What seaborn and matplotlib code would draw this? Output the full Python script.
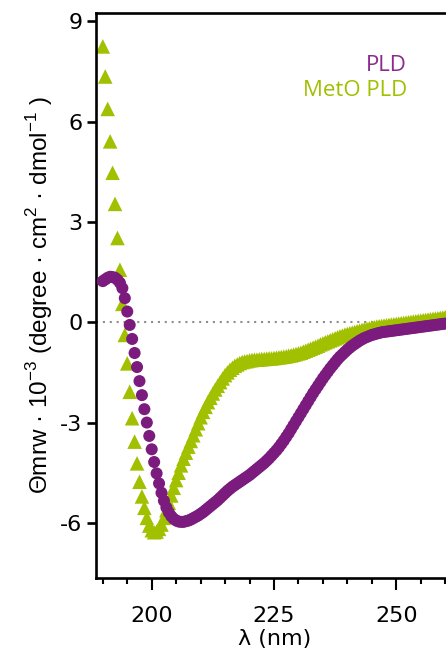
import matplotlib
matplotlib.use("Agg")
import matplotlib.pyplot as plt
import seaborn as sns
import pandas as pd
from matplotlib.ticker import FixedLocator

wavelength = [
    190, 190.5, 191, 191.5, 192, 192.5, 193, 193.5, 194, 194.5,
    195, 195.5, 196, 196.5, 197, 197.5, 198, 198.5, 199, 199.5,
    200, 200.5, 201, 201.5, 202, 202.5, 203, 203.5, 204, 204.5,
    205, 205.5, 206, 206.5, 207, 207.5, 208, 208.5, 209, 209.5,
    210, 210.5, 211, 211.5, 212, 212.5, 213, 213.5, 214, 214.5,
    215, 215.5, 216, 216.5, 217, 217.5, 218, 218.5, 219, 219.5,
    220, 220.5, 221, 221.5, 222, 222.5, 223, 223.5, 224, 224.5,
    225, 225.5, 226, 226.5, 227, 227.5, 228, 228.5, 229, 229.5,
    230, 230.5, 231, 231.5, 232, 232.5, 233, 233.5, 234, 234.5,
    235, 235.5, 236, 236.5, 237, 237.5, 238, 238.5, 239, 239.5,
    240, 240.5, 241, 241.5, 242, 242.5, 243, 243.5, 244, 244.5,
    245, 245.5, 246, 246.5, 247, 247.5, 248, 248.5, 249, 249.5,
    250, 250.5, 251, 251.5, 252, 252.5, 253, 253.5, 254, 254.5,
    255, 255.5, 256, 256.5, 257, 257.5, 258, 258.5, 259, 259.5,
    260,
]

pld = [
    1.23, 1.28, 1.33, 1.36, 1.35, 1.33, 1.27, 1.18, 1.02, 0.72,
    0.32, -0.08, -0.50, -0.92, -1.34, -1.76, -2.18, -2.60, -3.00, -3.40,
    -3.80, -4.18, -4.52, -4.82, -5.10, -5.34, -5.54, -5.69, -5.80, -5.88,
    -5.93, -5.96, -5.97, -5.97, -5.95, -5.93, -5.90, -5.86, -5.82, -5.78,
    -5.73, -5.68, -5.62, -5.56, -5.50, -5.44, -5.38, -5.32, -5.25, -5.18,
    -5.11, -5.04, -4.98, -4.92, -4.87, -4.82, -4.77, -4.72, -4.67, -4.62,
    -4.57, -4.51, -4.45, -4.39, -4.33, -4.27, -4.21, -4.14, -4.07, -3.99,
    -3.91, -3.83, -3.74, -3.64, -3.54, -3.43, -3.32, -3.20, -3.08, -2.96,
    -2.84, -2.72, -2.60, -2.48, -2.36, -2.24, -2.12, -2.01, -1.90, -1.79,
    -1.68, -1.58, -1.48, -1.38, -1.29, -1.20, -1.11, -1.03, -0.96, -0.89,
    -0.82, -0.76, -0.70, -0.65, -0.60, -0.55, -0.51, -0.47, -0.44, -0.41,
    -0.38, -0.36, -0.34, -0.32, -0.30, -0.29, -0.28, -0.27, -0.26, -0.25,
    -0.24, -0.23, -0.22, -0.21, -0.20, -0.19, -0.18, -0.17, -0.16, -0.15,
    -0.14, -0.13, -0.12, -0.11, -0.10, -0.09, -0.08, -0.07, -0.06, -0.05,
    -0.04,
]

meto_pld = [
    8.25, 7.35, 6.38, 5.41, 4.47, 3.54, 2.52, 1.57, 0.55, -0.38,
    -1.23, -2.08, -2.87, -3.57, -4.22, -4.77, -5.21, -5.55, -5.85, -6.08,
    -6.22, -6.28, -6.26, -6.18, -6.05, -5.85, -5.62, -5.40, -5.18, -4.95,
    -4.72, -4.50, -4.28, -4.08, -3.90, -3.72, -3.55, -3.38, -3.20, -3.02,
    -2.84, -2.68, -2.53, -2.39, -2.26, -2.13, -2.01, -1.90, -1.79, -1.68,
    -1.58, -1.50, -1.42, -1.36, -1.30, -1.26, -1.22, -1.19, -1.17, -1.16,
    -1.14, -1.13, -1.12, -1.12, -1.11, -1.10, -1.10, -1.09, -1.08, -1.08,
    -1.07, -1.06, -1.05, -1.04, -1.03, -1.02, -1.00, -0.99, -0.97, -0.95,
    -0.93, -0.91, -0.88, -0.85, -0.82, -0.79, -0.76, -0.73, -0.70, -0.66,
    -0.63, -0.60, -0.57, -0.54, -0.51, -0.48, -0.45, -0.42, -0.40, -0.37,
    -0.35, -0.33, -0.31, -0.29, -0.27, -0.25, -0.23, -0.21, -0.20, -0.18,
    -0.16, -0.15, -0.13, -0.12, -0.11, -0.10, -0.09, -0.08, -0.07, -0.06,
    -0.05, -0.04, -0.03, -0.02, -0.01, 0.00, 0.01, 0.02, 0.03, 0.04,
    0.05, 0.06, 0.07, 0.08, 0.09, 0.10, 0.11, 0.12, 0.13, 0.14,
    0.15,
]

series_names = ["PLD", "MetO PLD"]
y_ticks = [-6, -3, 0, 3, 6, 9]
x_major_ticks = [200, 225, 250]
x_minor_ticks = [190, 195, 205, 210, 215, 220, 230, 235, 240, 245, 255, 260]

PURPLE = "#7b1b7e"
GREEN = "#a0c000"

sns.set_style("ticks")
plt.rcParams["font.family"] = ["DejaVu Sans"]
plt.rcParams["text.color"] = "black"
plt.rcParams["axes.labelcolor"] = "black"
plt.rcParams["xtick.color"] = "black"
plt.rcParams["ytick.color"] = "black"
plt.rcParams["xtick.labelcolor"] = "black"
plt.rcParams["ytick.labelcolor"] = "black"

df_pld = pd.DataFrame({"wl": wavelength, "val": pld})
df_meto = pd.DataFrame({"wl": wavelength, "val": meto_pld})

fig = plt.figure(figsize=(4.46, 6.55), dpi=100)
ax = fig.add_axes([0.2146, 0.1180, 0.8011, 0.8617])

ax.axhline(0, color="#8c8c8c", lw=1.5, ls=(0, (1, 2.3)), zorder=1)

sns.scatterplot(data=df_meto, x="wl", y="val", marker="^", s=110,
                color=GREEN, edgecolor="none", linewidth=0, ax=ax, zorder=2)
sns.scatterplot(data=df_pld, x="wl", y="val", marker="o", s=75,
                color=PURPLE, edgecolor="none", linewidth=0, ax=ax, zorder=3)

ax.set_xlim(188.55, 261.6)
ax.set_ylim(-7.64, 9.24)

ax.xaxis.set_major_locator(FixedLocator(x_major_ticks))
ax.xaxis.set_minor_locator(FixedLocator(x_minor_ticks))
ax.yaxis.set_major_locator(FixedLocator(y_ticks))
ax.set_yticklabels([str(v) for v in y_ticks])
ax.set_xticklabels([str(v) for v in x_major_ticks])

for s in ax.spines.values():
    s.set_linewidth(1.9)
    s.set_color("black")
    s.set_visible(True)

ax.tick_params(axis="x", which="major", direction="out", length=8.5, width=1.5,
               labelsize=16, pad=12, color="black", labelcolor="black")
ax.tick_params(axis="x", which="minor", direction="out", length=4.5, width=1.5,
               color="black")
ax.tick_params(axis="y", which="major", direction="out", length=6.5, width=1.9,
               labelsize=16, pad=3, color="black", labelcolor="black")

ax.set_xlabel("λ (nm)", fontsize=16, labelpad=2, color="black")
ax.set_ylabel(r"Θmrw · 10$^{\mathregular{-3}}$ (degree · cm$^{\mathregular{2}}$ · dmol$^{\mathregular{-1}}$ )",
              fontsize=17.5, family="Liberation Sans", labelpad=4, color="black")

fig.text(0.9126, 0.892, series_names[0], color="#8a2a8e", fontsize=16,
         family="Open Sans", ha="right", va="baseline")
fig.text(0.9126, 0.8534, series_names[1], color=GREEN, fontsize=16,
         family="Open Sans", ha="right", va="baseline")

fig.savefig("out.png", dpi=100)
